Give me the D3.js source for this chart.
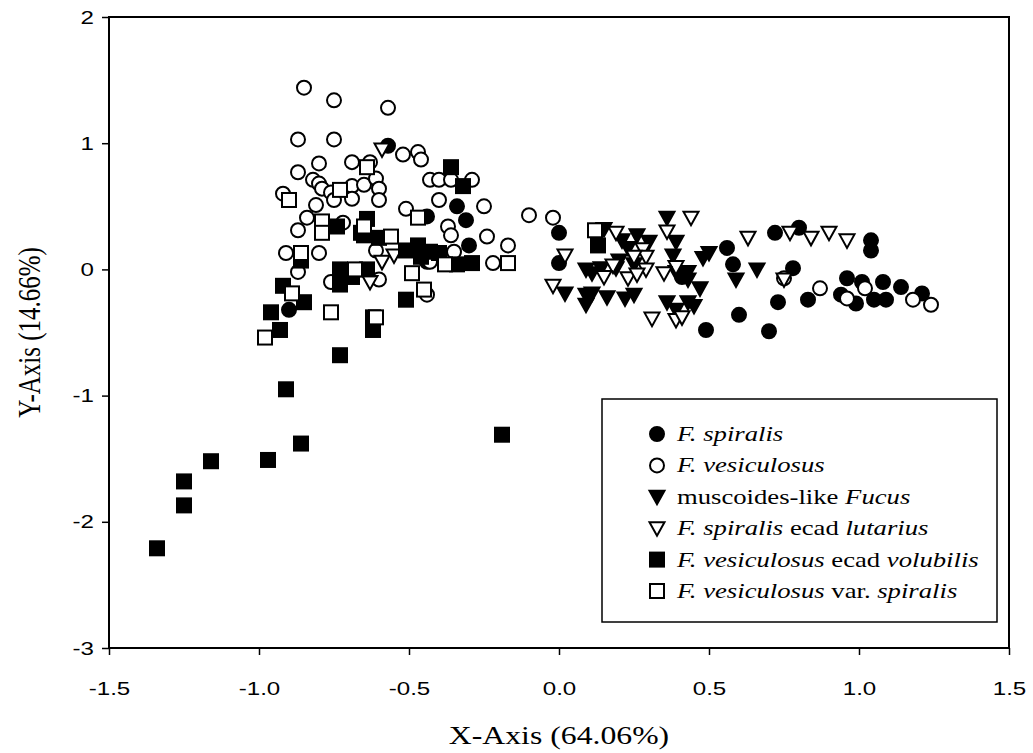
<!DOCTYPE html>
<html>
<head>
<meta charset="utf-8">
<title>Fucus ordination</title>
<script src="https://d3js.org/d3.v7.min.js"></script>
<style>
  body { margin: 0; background: #fff; }
</style>
</head>
<body>
<div id="chart"></div>
<script>
// data, [x, y]
const spiralis = [[-0.57,0.98],[-0.44,0.42],[-0.34,0.50],[-0.31,0.39],[-0.30,0.19],[-0.90,-0.32],[0.00,0.29],[0.00,0.05],
  [0.41,-0.06],[0.56,0.17],[0.58,0.04],[0.60,-0.36],[0.49,-0.48],[0.70,-0.49],[0.73,-0.26],[0.72,0.29],[0.80,0.33],
  [0.78,0.01],[1.04,0.23],[1.04,0.15],[0.83,-0.24],[0.96,-0.07],[0.94,-0.20],[0.99,-0.27],[1.01,-0.10],[1.05,-0.24],
  [1.08,-0.10],[1.09,-0.24],[1.14,-0.14],[1.21,-0.19],[-0.44,0.06]];
const vesiculosus = [[-0.85,1.44],[-0.75,1.34],[-0.57,1.28],[-0.87,1.03],[-0.75,1.03],[-0.52,0.91],[-0.47,0.93],[-0.46,0.87],
  [-0.80,0.84],[-0.69,0.85],[-0.63,0.85],[-0.87,0.77],[-0.82,0.71],[-0.80,0.68],[-0.79,0.64],[-0.76,0.61],[-0.69,0.66],
  [-0.65,0.67],[-0.61,0.72],[-0.60,0.64],[-0.60,0.55],[-0.69,0.56],[-0.75,0.55],[-0.92,0.60],[-0.81,0.51],[-0.40,0.55],
  [-0.51,0.48],[-0.43,0.71],[-0.40,0.71],[-0.36,0.71],[-0.29,0.71],[-0.25,0.50],[-0.84,0.41],[-0.87,0.31],[-0.72,0.37],
  [-0.37,0.34],[-0.36,0.27],[-0.24,0.26],[-0.17,0.19],[-0.91,0.13],[-0.80,0.13],[-0.87,-0.02],[-0.76,-0.10],[-0.60,-0.08],
  [-0.61,0.15],[-0.43,0.06],[-0.22,0.05],[-0.44,-0.20],[-0.10,0.43],[-0.02,0.41],[-0.35,0.14],[0.75,-0.07],[0.87,-0.15],
  [0.96,-0.23],[1.02,-0.15],[1.18,-0.24],[1.24,-0.28]];
const muscoides = [[0.15,0.32],[0.21,0.23],[0.26,0.27],[0.30,0.22],[0.23,0.17],[0.20,0.07],[0.09,0.00],[0.11,-0.03],
  [0.14,0.01],[0.09,-0.20],[0.09,-0.28],[0.11,-0.19],[0.16,-0.22],[0.22,-0.23],[0.25,-0.20],[0.02,-0.19],[0.36,0.41],
  [0.39,0.22],[0.38,0.11],[0.43,-0.02],[0.43,-0.08],[0.47,-0.15],[0.36,-0.26],[0.43,-0.26],[0.45,-0.29],[0.39,-0.32],
  [0.48,0.09],[0.50,0.13],[0.66,0.00],[0.59,-0.08],[0.19,0.01],[0.25,0.04],[0.39,-0.02]];
const lutarius = [[-0.59,0.95],[-0.63,-0.10],[-0.59,0.06],[-0.55,0.11],[0.02,0.11],[-0.02,-0.13],[0.19,0.29],[0.28,0.16],
  [0.29,0.10],[0.25,0.10],[0.18,0.03],[0.29,0.00],[0.23,-0.07],[0.15,-0.06],[0.26,-0.04],[0.44,0.41],[0.36,0.30],
  [0.39,0.02],[0.35,-0.03],[0.31,-0.39],[0.39,-0.40],[0.41,-0.38],[0.63,0.25],[0.77,0.29],[0.84,0.25],[0.90,0.29],
  [0.96,0.23],[0.75,-0.08]];
const volubilis = [[-0.91,-0.95],[-0.86,-1.38],[-1.16,-1.52],[-0.97,-1.51],[-1.25,-1.68],[-1.25,-1.87],[-1.34,-2.21],
  [-0.19,-1.31],[-0.73,-0.68],[-0.51,-0.24],[-0.62,-0.48],[-0.96,-0.34],[-0.93,-0.48],[-0.92,-0.13],[-0.85,-0.26],
  [-0.86,0.07],[-0.73,0.00],[-0.73,-0.12],[-0.64,0.00],[-0.69,-0.06],[-0.65,0.27],[-0.51,0.15],[-0.47,0.19],[-0.46,0.10],
  [-0.43,0.14],[-0.40,0.13],[-0.34,0.04],[-0.29,0.05],[-0.36,0.81],[-0.32,0.66],[-0.74,0.34],[-0.64,0.40],[-0.66,0.29],
  [-0.60,0.25],[0.13,0.19],[-0.62,-0.38]];
const varSpiralis = [[-0.64,0.81],[-0.73,0.63],[-0.90,0.55],[-0.47,0.41],[-0.79,0.38],[-0.79,0.29],[-0.65,0.34],[-0.56,0.26],
  [-0.86,0.13],[-0.68,0.00],[-0.49,-0.03],[-0.38,0.04],[-0.17,0.05],[-0.45,-0.16],[-0.76,-0.34],[-0.61,-0.38],
  [-0.89,-0.19],[-0.98,-0.54],[0.12,0.31]];

const xTicks = [-1.5, -1.0, -0.5, 0.0, 0.5, 1.0, 1.5];
const yTicks = [-3, -2, -1, 0, 1, 2];

// legend labels: parts in italic flagged with true
const legendLabels = [
  [["F. spiralis", true]],
  [["F. vesiculosus", true]],
  [["muscoides-like ", false], ["Fucus", true]],
  [["F. spiralis", true], [" ecad ", false], ["lutarius", true]],
  [["F. vesiculosus", true], [" ecad ", false], ["volubilis", true]],
  [["F. vesiculosus", true], [" var. ", false], ["spiralis", true]]
];

const series = [
  { data: spiralis, shape: "circle", fill: "#000" },
  { data: vesiculosus, shape: "circle", fill: "#fff" },
  { data: muscoides, shape: "tri", fill: "#000" },
  { data: lutarius, shape: "tri", fill: "#fff" },
  { data: volubilis, shape: "square", fill: "#000" },
  { data: varSpiralis, shape: "square", fill: "#fff" }
];

let W = 1033, H = 753;
let pLeft = 109, pRight = 1009, pTop = 17, pBottom = 648;
// the scanned original is wider than tall, text glyphs look stretched sideways
let stretch = 1.27;

let svg = d3.select("#chart").append("svg")
  .attr("width", W).attr("height", H);

let x = d3.scaleLinear().domain([-1.5, 1.5]).range([pLeft, pRight]);
let y = d3.scaleLinear().domain([-3, 2]).range([pBottom, pTop]);

let fmtX = d => d3.format(".1f")(d).replace("\u2212", "-");
let fmtY = d => String(d);

// markers
function drawMarker(g, shape, fill) {
  g.attr("fill", fill).attr("stroke", "#000").attr("stroke-width", 2);
  if (shape == "circle") {
    g.append("circle").attr("r", 7);
  } else if (shape == "square") {
    g.append("rect").attr("x", -7).attr("y", -7).attr("width", 14).attr("height", 14);
  } else {
    g.append("path").attr("d", "M-7.5,-6 L7.5,-6 L0,7.5 Z");
  }
}

series.forEach(function(s) {
  svg.append("g").selectAll("g")
    .data(s.data)
    .enter()
    .append("g")
    .attr("transform", d => "translate(" + x(d[0]) + "," + y(d[1]) + ")")
    .each(function() { drawMarker(d3.select(this), s.shape, s.fill); });
});

// frame
svg.append("rect")
  .attr("x", pLeft).attr("y", pTop)
  .attr("width", pRight - pLeft).attr("height", pBottom - pTop)
  .attr("fill", "none").attr("stroke", "#000").attr("stroke-width", 2);

let xAxis = d3.axisBottom(x).tickValues(xTicks).tickFormat(fmtX).tickSize(7).tickPadding(27);
let yAxis = d3.axisLeft(y).tickValues(yTicks).tickFormat(fmtY).tickSize(7).tickPadding(8);

let gx = svg.append("g").attr("transform", "translate(0," + pBottom + ")").call(xAxis);
let gy = svg.append("g").attr("transform", "translate(" + pLeft + ",0)").call(yAxis);
[gx, gy].forEach(function(g) {
  g.select(".domain").remove();
  g.selectAll("line").attr("stroke", "#000").attr("stroke-width", 1.5);
  g.selectAll("text")
    .attr("font-family", "Liberation Sans, Arial, sans-serif")
    .attr("font-size", "19px")
    .attr("fill", "#000")
    .attr("x", function() { return (+d3.select(this).attr("x") || 0) / stretch; })
    .attr("transform", "scale(" + stretch + ",1)");
});

// axis titles
svg.append("text")
  .attr("transform", "translate(" + ((pLeft + pRight) / 2) + ",744) scale(" + stretch + ",1)")
  .attr("text-anchor", "middle")
  .attr("font-family", "Liberation Serif, Times New Roman, serif")
  .attr("font-size", "25px")
  .text("X-Axis (64.06%)");

svg.append("text")
  .attr("transform", "translate(40," + ((pTop + pBottom) / 2) + ") rotate(-90) scale(1," + stretch + ")")
  .attr("text-anchor", "middle")
  .attr("font-family", "Liberation Serif, Times New Roman, serif")
  .attr("font-size", "25px")
  .text("Y-Axis (14.66%)");

// legend
let lg = svg.append("g");
lg.append("rect")
  .attr("x", 602).attr("y", 399).attr("width", 395).attr("height", 223)
  .attr("fill", "#fff").attr("stroke", "#000").attr("stroke-width", 1.5);

legendLabels.forEach(function(parts, i) {
  let ly = 434 + i * 31.4;
  let m = lg.append("g").attr("transform", "translate(657," + ly + ")");
  drawMarker(m, series[i].shape, series[i].fill);
  let t = lg.append("text")
    .attr("transform", "translate(677," + (ly + 7) + ") scale(" + stretch + ",1)")
    .attr("font-family", "Liberation Serif, Times New Roman, serif")
    .attr("font-size", "21px");
  parts.forEach(function(p) {
    t.append("tspan").attr("font-style", p[1] ? "italic" : "normal").text(p[0]);
  });
});
</script>
</body>
</html>
